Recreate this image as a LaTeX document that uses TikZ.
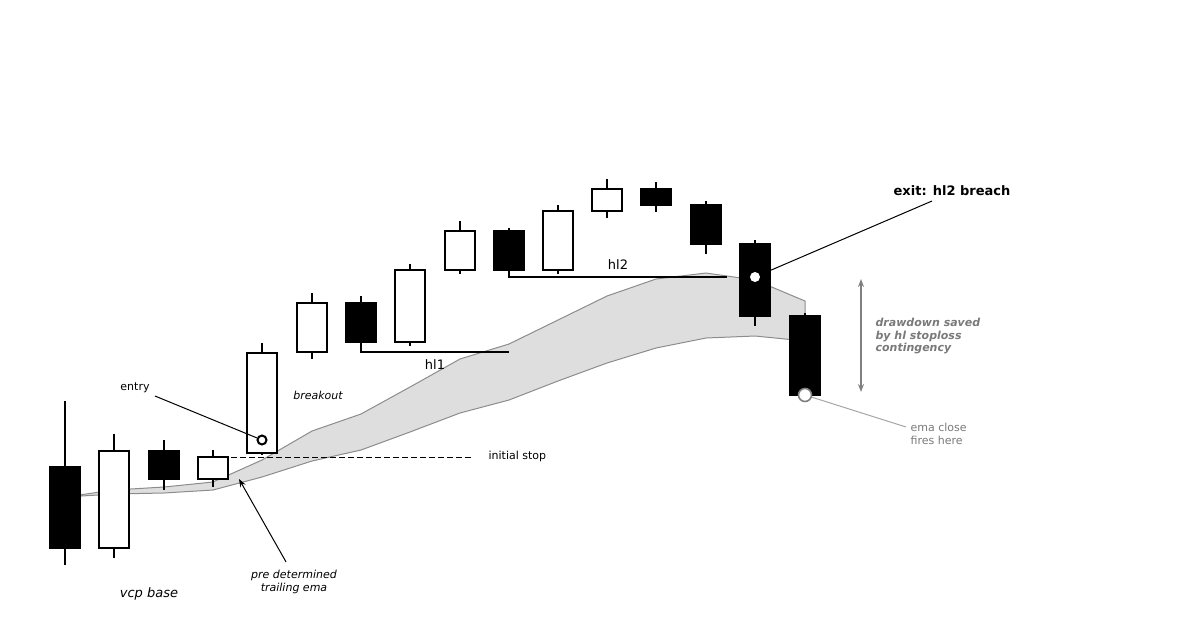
\documentclass[tikz,border=0pt]{standalone}
\usepackage{fontspec}
\setmainfont{DejaVu Sans}
\usetikzlibrary{arrows.meta}
\begin{document}
\begin{tikzpicture}[x=0.5pt,y=-0.5pt,line width=0.6pt,
  lbl/.style={font=\fontsize{5.5pt}{6.4pt}\selectfont,inner sep=0pt,align=center},
  note/.style={lbl,text=gray!95!black,align=left,anchor=west},
  ring/.style={circle,draw,line width=1pt,inner sep=0pt,minimum size=8pt}]
\useasboundingbox (0,0) rectangle (1200,639);
% ema band
\filldraw[fill=black!13,draw=black!45,line width=0.5pt]
  (65,497) -- (114,490) -- (164,487) -- (213,482) -- (262,460) -- (312,431) -- (361,414)
  -- (410,387) -- (460,359) -- (509,344) -- (558,320) -- (607,296) -- (656,279) -- (706,273)
  -- (755,280) -- (805,301) -- (805,341) -- (755,336) -- (706,338) -- (656,348) -- (607,363)
  -- (558,381) -- (509,400) -- (460,413) -- (410,432) -- (361,450) -- (312,461) -- (262,477)
  -- (213,490) -- (164,493) -- (114,494) -- cycle;
% candles: x / body top / body bottom / wick top / wick bottom / fill
\foreach \x/\bt/\bb/\wt/\wb/\c in {65/467/548/401/565/black, 114/451/548/434/558/white,
  164/451/479/440/490/black, 213/457/479/450/487/white, 262/353/453/343/455/white,
  312/303/352/293/359/white, 361/303/342/296/342/black, 410/270/342/264/346/white,
  460/231/270/221/274/white, 509/231/270/228/270/black, 558/211/270/205/274/white,
  607/189/211/179/218/white, 656/189/205/182/212/black, 706/205/244/201/254/black,
  755/244/316/240/326/black, 805/316/395/313/395/black}{
  \draw (\x,\wt) -- (\x,\wb);
  \filldraw[fill=\c] (\x-15,\bt) rectangle (\x+15,\bb);
}
% higher lows
\draw[line width=0.8pt] (361,342) -- (361,352) -- (509,352);
\draw[line width=0.8pt] (509,270) -- (509,277) -- (727,277);
\node[lbl,font=\fontsize{6.5pt}{7pt}\selectfont] (hl1) at (435,365) {hl1};
\node[lbl,font=\fontsize{6.5pt}{7pt}\selectfont] (hl2) at (618,265) {hl2};
% initial stop
\coordinate (stopA) at (213,457);
\coordinate (stopB) at (472,457);
\draw[dashed,line width=0.5pt,dash pattern=on 3pt off 1.5pt] (stopA) -- (stopB);
\node[lbl,anchor=west] (stop) at (488,456) {initial stop};
% entry
\node[ring,fill=white,minimum size=4.5pt] (entry) at (262,440) {};
\node[lbl] (entrylbl) at (135,388) {entry};
\draw[line width=0.5pt] (155,396) -- (entry);
\node[lbl,font=\fontsize{5.5pt}{6.4pt}\itshape] (breakout) at (318,395) {breakout};
\node[lbl,font=\fontsize{5.5pt}{6.2pt}\itshape] (ema) at (294,582) {pre determined\\trailing ema};
\coordinate (emaTip) at (239,479);
\draw[-{Stealth[length=4pt,width=3pt]},line width=0.5pt] (ema.north) ++(-8,-8) -- (emaTip);
\node[lbl,font=\fontsize{6.5pt}{7pt}\itshape] (vcp) at (149,594) {vcp base};
% exit
\node[circle,fill=white,inner sep=0pt,minimum size=5pt] (exit) at (755,277) {};
\node[lbl,font=\fontsize{6.5pt}{7pt}\bfseries] (exitlbl) at (952,191) {exit: hl2 breach};
\draw[line width=0.5pt] (exit) -- (932,201);
% ema close
\node[circle,draw=gray,fill=white,line width=0.8pt,inner sep=0pt,minimum size=6.5pt] (close) at (805,395) {};
\node[note] (closelbl) at (910,434) {ema close\\fires here};
\draw[gray!70,line width=0.5pt] (close) -- (906,427);
% drawdown
\coordinate (ddA) at (861,279);
\coordinate (ddB) at (861,392);
\draw[gray,{Stealth[length=4pt,width=3pt]}-{Stealth[length=4pt,width=3pt]},line width=0.7pt] (ddA) -- (ddB);
\node[note,font=\fontsize{5.5pt}{6.2pt}\bfseries\itshape] (dd) at (875,336) {drawdown saved\\by hl stoploss\\contingency};
\end{tikzpicture}
\end{document}
